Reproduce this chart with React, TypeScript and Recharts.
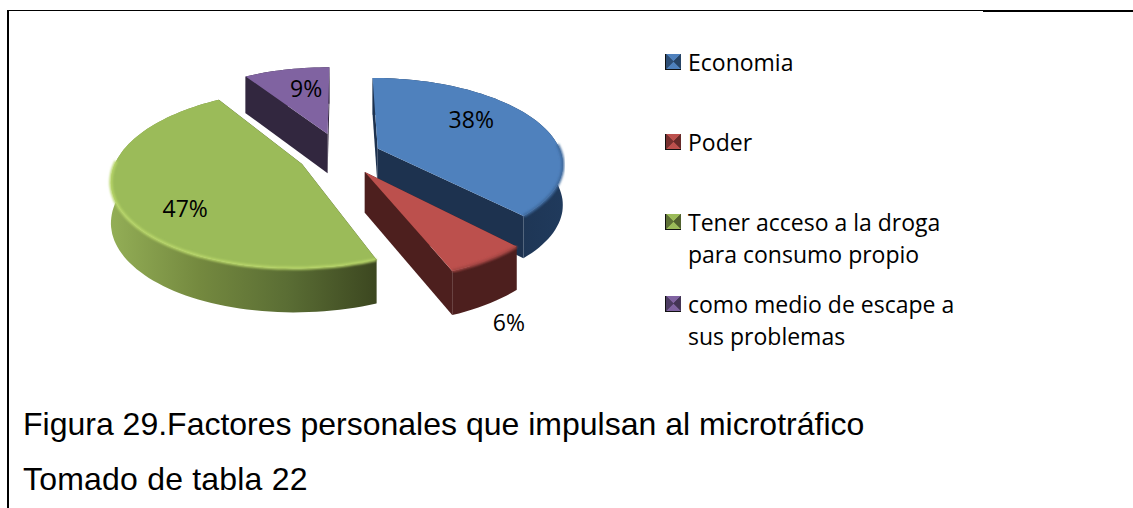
import { PieChart, Pie, Legend } from "recharts";

/**
 * Exploded 3D-look pie: Recharts lays out the angles, the shape projects each sector.
 */
const categories = ["Economia", "Poder", "Tener acceso a la droga para consumo propio", "como medio de escape a sus problemas"];
const shares = [38, 6, 47, 9];

const topColors = ["#4f81bd", "#bc504d", "#9bbb59", "#8063a1"];
const wallColors = ["#1d324f", "#4d1f1e", "#3d4820", "#32273f"];
const bevelColors = ["#3f6b9f", "#a24543", "#b7d569", "#7a5f9a"];
const swatchDark = ["#2c4d75", "#772f2e", "#5d7035", "#4c3b62"];
const rimStops = [
  ["#1d324f", "#1d324f", "#1d3452", "#203a5c"],
  ["#4d1f1e", "#4d1f1e", "#4d1f1e", "#4d1f1e"],
  ["#93ae56", "#74893f", "#5a6d34", "#3c4720"],
  ["#32273f", "#32273f", "#32273f", "#32273f"],
];
const explode = [40, 43, 43, 50];
const labelRadius = [0.68, 1.42, 0.73, 0.67];
const labelTurn = [-13, 9, -13, 4];

const CX = 341;
const CY = 155;
const RADIUS = 184;
const FLATTEN = 0.456;
const PERSPECTIVE = 0.163;
const DEPTH = 40;

const rows = categories.map((name, i) => ({ name, value: shares[i], fill: topColors[i] }));

function rad(d: number) {
  return (d * Math.PI) / 180;
}

// x,y on the ground plane (y grows towards the viewer) to screen
function project(cx: number, cy: number, R: number, x: number, y: number, drop = 0) {
  const w = 1 / (1 - (PERSPECTIVE * y) / R);
  return { x: cx + x * w, y: cy + FLATTEN * y * w + drop * DEPTH * Math.sqrt(w) };
}

function poly(pts: { x: number; y: number }[]) {
  return pts.map((p, i) => `${i ? "L" : "M"}${p.x.toFixed(1)},${p.y.toFixed(1)}`).join(" ");
}

function Slice(props: any) {
  const { cx, cy, outerRadius: R, startAngle, endAngle, midAngle, name } = props;
  const i = categories.indexOf(name);
  const a0 = 90 - startAngle;
  const a1 = 90 - endAngle;
  const mid = 90 - midAngle;
  const ox = explode[i] * Math.sin(rad(mid));
  const oy = -explode[i] * Math.cos(rad(mid));

  const at = (a: number, drop = 0) =>
    project(cx, cy, R, ox + R * Math.sin(rad(a)), oy - R * Math.cos(rad(a)), drop);
  const apex = (drop = 0) => project(cx, cy, R, ox, oy, drop);

  const steps = Math.max(6, Math.ceil(Math.abs(a1 - a0) / 2));
  const angles = Array.from({ length: steps + 1 }, (_, k) => a0 + ((a1 - a0) * k) / steps);
  const arcTop = angles.map(a => at(a));
  const arcBottom = angles.map(a => at(a, 1)).reverse();

  const wallA = [apex(), at(a0), at(a0, 1), apex(1)];
  const wallB = [apex(), at(a1), at(a1, 1), apex(1)];
  const walls = at(a0).y < at(a1).y ? [wallA, wallB] : [wallB, wallA];

  // the rounded lip only shows on the part of the rim that faces the viewer
  const frontArc = angles.filter(a => Math.cos(rad(a)) < 0.05).map(a => at(a));

  return (
    <g>
      <path d={poly(walls[0]) + "Z"} fill={wallColors[i]} />
      <path d={poly(walls[1]) + "Z"} fill={wallColors[i]} />
      <path d={poly([...arcTop, ...arcBottom]) + "Z"} fill={`url(#rim${i})`} />
      <path d={poly([apex(), ...arcTop]) + "Z"} fill={topColors[i]} />
      {frontArc.length > 1 && i !== 3 && (
        <path d={poly(frontArc)} fill="none" stroke={bevelColors[i]} strokeWidth={3} filter="url(#soft)" />
      )}
    </g>
  );
}

function PercentLabel(props: any) {
  const { cx, cy, outerRadius: R, midAngle, index } = props;
  const mid = 90 - midAngle;
  const ox = explode[index] * Math.sin(rad(mid));
  const oy = -explode[index] * Math.cos(rad(mid));
  const a = rad(mid + labelTurn[index]);
  const r = R * labelRadius[index];
  const p = project(cx, cy, R, ox + r * Math.sin(a), oy - r * Math.cos(a));
  return (
    <text x={p.x} y={p.y} textAnchor="middle" dominantBaseline="central" fontFamily="'Open Sans'" fontSize={23} fill="#000">
      {shares[index]}%
    </text>
  );
}

function Swatch({ i }: { i: number }) {
  return (
    <svg width={16} height={16} style={{ flex: "none", marginTop: 8, marginRight: 7 }}>
      <rect width={16} height={16} fill="#111" />
      <polygon points="1,0 1,15 8.5,7.5" fill={swatchDark[i]} />
      <polygon points="1,0 16,0 8.5,7.5" fill={topColors[i]} />
      <polygon points="16,0 16,15 8.5,7.5" fill={swatchDark[i]} opacity={0.85} />
      <polygon points="1,15 16,15 8.5,7.5" fill={topColors[i]} />
    </svg>
  );
}

function LegendRows() {
  return (
    <div style={{ width: 300, fontFamily: "'Open Sans'", fontSize: 23, lineHeight: "32px", color: "#000" }}>
      {categories.map((c, i) => (
        <div key={c} style={{ display: "flex", height: i === 2 ? 82 : 80 }}>
          <Swatch i={i} />
          <div style={{ width: 285 }}>{c}</div>
        </div>
      ))}
    </div>
  );
}

export default function App() {
  return (
    <div style={{ position: "absolute", left: 0, top: 0, width: 1133, height: 508, background: "#fff", overflow: "hidden" }}>
      <PieChart width={1133} height={508} margin={{ top: 0, right: 0, bottom: 0, left: 0 }}>
        <defs>
          {rimStops.map((stops, i) => (
            <linearGradient key={i} id={`rim${i}`} x1="0" y1="0" x2="1" y2="0">
              {stops.map((c, k) => (
                <stop key={k} offset={k / (stops.length - 1)} stopColor={c} />
              ))}
            </linearGradient>
          ))}
          <filter id="soft" x="-5%" y="-5%" width="110%" height="110%">
            <feGaussianBlur stdDeviation="0.9" />
          </filter>
        </defs>
        <Pie
          data={rows}
          dataKey="value"
          nameKey="name"
          cx={CX}
          cy={CY}
          innerRadius={0}
          outerRadius={RADIUS}
          startAngle={90}
          endAngle={-270}
          stroke="none"
          isAnimationActive={false}
          shape={Slice}
          label={PercentLabel}
          labelLine={false}
        />
        <Legend
          layout="vertical"
          align="center"
          verticalAlign="middle"
          content={LegendRows}
          wrapperStyle={{ left: 665, top: 46, width: 300 }}
        />
      </PieChart>
      <div style={{ position: "absolute", left: 8, top: 10, width: 975, height: 1, background: "#000" }} />
      <div style={{ position: "absolute", left: 983, top: 10, width: 150, height: 2, background: "#000" }} />
      <div style={{ position: "absolute", left: 7, top: 10, width: 2, height: 498, background: "#000" }} />
      <div style={{ position: "absolute", left: 23, top: 404, fontFamily: "'Liberation Sans'", fontSize: 32, lineHeight: "40px", color: "#000", whiteSpace: "nowrap" }}>
        Figura 29.Factores personales que impulsan al microtráfico
      </div>
      <div style={{ position: "absolute", left: 23, top: 459, fontFamily: "'Liberation Sans'", fontSize: 32, lineHeight: "40px", letterSpacing: 0.2, color: "#000", whiteSpace: "nowrap" }}>
        Tomado de tabla 22
      </div>
    </div>
  );
}
